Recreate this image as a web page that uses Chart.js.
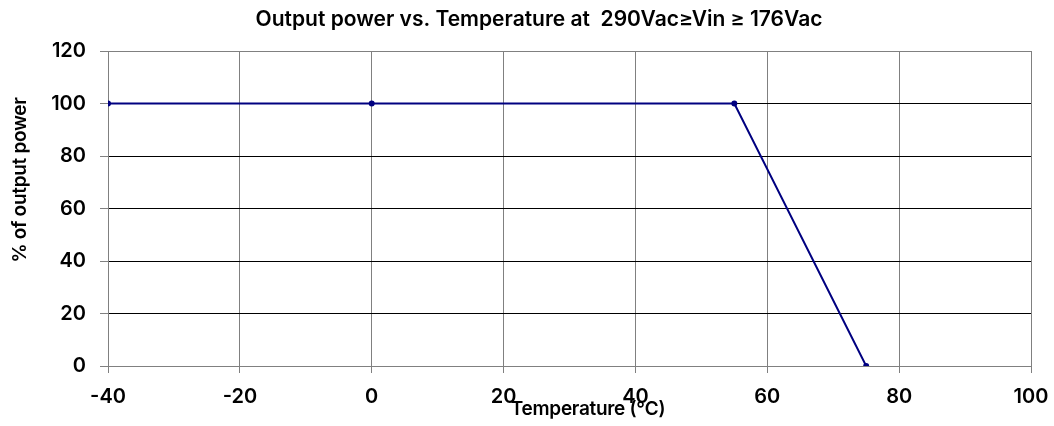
<!DOCTYPE html>
<html>
<head>
<meta charset="utf-8">
<script src="https://cdn.jsdelivr.net/npm/chart.js@4"></script>
<style>
  html, body { margin: 0; padding: 0; background: #fff; }
  #wrap { width: 1054px; height: 426px; }
</style>
</head>
<body>
<div id="wrap"><canvas id="derating"></canvas></div>
<script>
const temps = [-40, 0, 55, 75];
const power = [100, 100, 100, 0];
const xTicks = [-40, -20, 0, 20, 40, 60, 80, 100];
const yTicks = [0, 20, 40, 60, 80, 100, 120];

const chartTitle = "Output power vs. Temperature at  290Vac\u2265Vin \u2265 176Vac";
const xTitle = "Temperature (\u2103)";
const yTitle = "% of output power";

const FONT = "Inter, 'Liberation Sans', sans-serif";

// titles drawn at their spots in the original (they are not centred on the plot)
const titlesPlugin = {
  id: "titles",
  afterDraw(chart) {
    const ctx = chart.ctx;
    ctx.save();
    ctx.fillStyle = "#000";
    ctx.textAlign = "center";
    ctx.textBaseline = "middle";
    ctx.letterSpacing = "0px";
    ctx.font = "600 21px " + FONT;
    ctx.fillText(chartTitle, 539, 20);
    ctx.letterSpacing = "-0.3px";
    ctx.font = "600 19px " + FONT;
    ctx.fillText(xTitle, 588, 409);
    ctx.translate(20, 180);
    ctx.rotate(-Math.PI / 2);
    ctx.font = "600 19px " + FONT;
    ctx.fillText(yTitle, 0, 0);
    ctx.restore();
  },
};

new Chart(document.getElementById("derating"), {
  type: "line",
  data: {
    datasets: [
      {
        data: temps.map((t, i) => ({ x: t, y: power[i] })),
        borderColor: "#000080",
        backgroundColor: "#000080",
        borderWidth: 2,
        pointRadius: 2,
        pointHoverRadius: 2,
        tension: 0,
      },
    ],
  },
  options: {
    responsive: true,
    maintainAspectRatio: false,
    animation: false,
    layout: { padding: { top: 51, right: 23, bottom: 0, left: 0 } },
    plugins: { legend: { display: false }, tooltip: { enabled: false } },
    scales: {
      x: {
        type: "linear",
        min: -40,
        max: 100,
        afterBuildTicks: (s) => { s.ticks = xTicks.map((v) => ({ value: v })); },
        afterFit: (s) => {
          s.height = 60;
          s.paddingLeft = 0;
          s.paddingRight = 0;
        },
        ticks: { color: "#000", padding: 12, font: { family: FONT, size: 20, weight: "600" } },
        grid: { color: "#808080", tickColor: "#808080", tickLength: 7, lineWidth: 1 },
        border: { color: "#808080" },
      },
      y: {
        min: 0,
        max: 120,
        afterBuildTicks: (s) => { s.ticks = yTicks.map((v) => ({ value: v })); },
        afterFit: (s) => { s.width = 108; },
        ticks: { color: "#000", padding: 14, font: { family: FONT, size: 20, weight: "600" } },
        grid: {
          color: (c) => (c.tick && (c.tick.value === 120 || c.tick.value === 0) ? "#808080" : "#000"),
          tickColor: "#808080",
          tickLength: 8,
          lineWidth: 1,
        },
        border: { color: "#808080" },
      },
    },
  },
  plugins: [titlesPlugin],
});
</script>
</body>
</html>
